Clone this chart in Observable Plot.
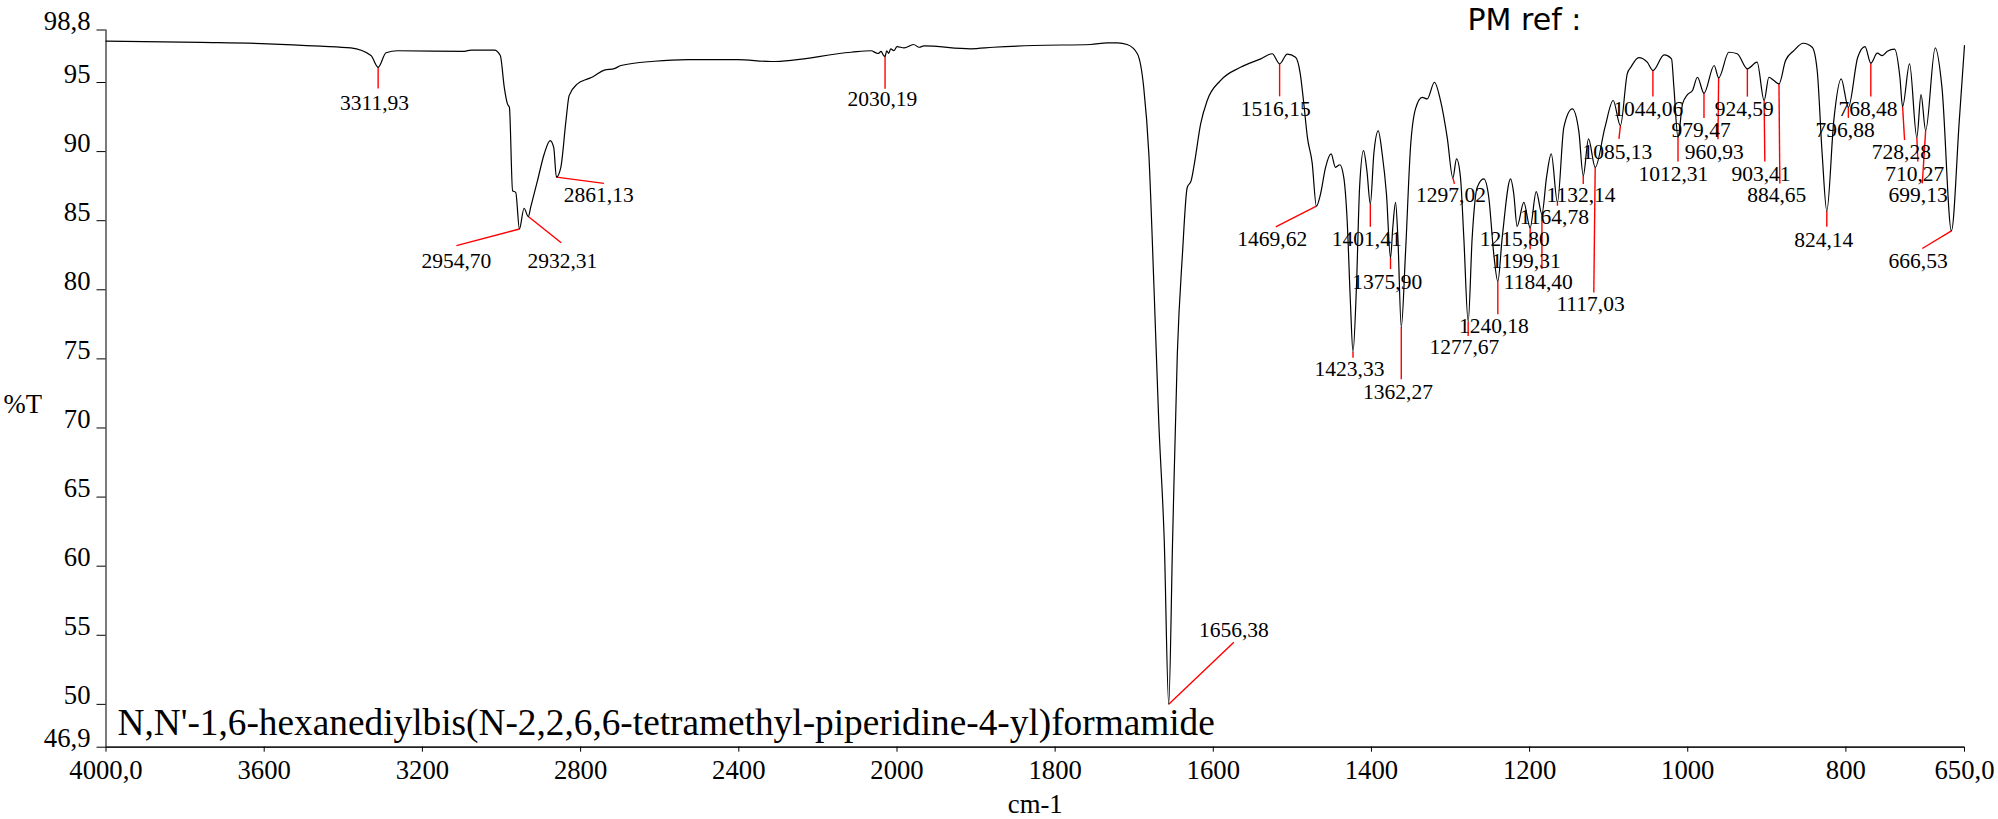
<!DOCTYPE html>
<html><head><meta charset="utf-8">
<script src="https://cdn.jsdelivr.net/npm/d3@7"></script>
<script src="https://cdn.jsdelivr.net/npm/@observablehq/plot@0.6"></script>
<style>
html,body{margin:0;padding:0;background:#fff;}
#wrap{position:relative;width:1998px;height:819px;overflow:hidden;}
svg{overflow:visible;}
</style></head><body><div id="wrap"></div>
<script>
// ---- Spectrum (wavenumber cm-1, %T) ----
const wavenumber = [4000,3760,3591,3458,3381,3330,3311.93,3292,3263,3094,3077,3018,3003,2993,2985,2980,2972,2964,2954.70,2943,2932.31,2926,2909,2892,2877,2868,2861.13,2850,2837,2829,2808,2782,2770,2740,2715,2698,2614,2529,2403,2318,2116,2066,2048,2040,2035,2030.19,2026,2021,2016,2008,2000,1991,1979,1972,1966,1907,1878,1827,1755,1734,1721,1709,1696,1688,1681.5,1675,1669,1662,1656.38,1651.5,1645.5,1639,1633,1628,1624,1616,1607.7,1591,1565.6,1540,1525.5,1516.15,1506.5,1496,1490,1485.5,1481,1475,1469.62,1464.5,1458,1451,1445.5,1440,1435,1430.7,1426.5,1423.33,1419,1415,1410,1405.7,1401.41,1397,1391.4,1386.4,1381,1375.90,1373,1369.5,1366.6,1362.27,1357,1350.6,1344.3,1335.8,1329.5,1320.3,1312.7,1304.2,1297.02,1292.4,1287.4,1283.2,1277.67,1272.6,1266.3,1257.9,1251.6,1245.3,1240.18,1234.6,1224,1220,1215.80,1207.3,1199.31,1191.6,1184.40,1178.6,1172.6,1164.78,1156.7,1146,1137.8,1132.14,1125.5,1117.03,1104.7,1094.3,1085.13,1076.5,1072,1062,1051.2,1044.06,1029.8,1020.5,1017.5,1012.31,1006.6,1000.3,994,987.7,979.47,966.6,960.93,948,937.4,924.59,912.3,903.41,897.4,891,884.65,876.3,865.8,854,842.6,836.3,830,824.14,815.3,806,796.88,785,775.8,768.48,760.3,754,747.6,738.4,731.7,728.28,719.5,710.27,705,699.13,687,678.5,666.53,656.6,650];
const transmittance = [98.0,97.9,97.8,97.63,97.5,96.95,96.1,97.15,97.3,97.26,97.35,97.35,96.95,94.65,93.45,93.2,87.17,87.05,84.4,85.9,85.3,86.0,87.9,89.83,90.8,90.3,88.15,88.86,92.24,94.05,94.9,95.26,95.4,95.9,96.0,96.23,96.54,96.66,96.66,96.52,97.19,97.3,97.1,97.25,97.0,96.88,97.3,97.1,97.44,97.3,97.6,97.5,97.75,97.55,97.65,97.44,97.55,97.68,97.75,97.87,97.87,97.75,97.08,94.65,89.83,80.16,70.5,61.8,50.0,61.8,75.35,82.6,87.4,87.9,89.1,92.0,93.7,95.14,96.1,96.71,97.08,96.35,97.05,96.83,95.63,93.45,91.03,89.2,86.05,86.9,88.86,89.83,88.86,89.05,88.13,85.0,78.96,75.5,80.16,87.4,90.07,88.6,86.2,89.83,91.5,89.83,86.93,82.3,84.5,86.32,83.79,77.3,82.58,90.31,93.09,93.93,93.81,95.02,93.7,91.03,88.1,89.47,88.13,83.79,77.7,83.79,87.4,88.02,86.68,82.58,80.6,83.79,88.02,86.93,84.6,86.32,84.5,87.1,85.48,88.13,89.83,86.32,91.76,93.09,91.5,88.25,90.92,88.86,91.76,93.7,91.88,95.63,96.1,96.8,96.47,95.87,97.0,96.71,94.65,91.03,93.45,94.13,94.42,95.38,94.22,96.23,95.34,97.19,97.08,95.99,96.47,93.7,95.38,95.14,94.9,96.59,97.31,97.84,97.55,95.87,89.83,85.7,92.24,95.26,93.21,96.83,97.6,96.4,97.12,96.95,97.26,97.41,95.38,93.26,96.35,91.03,94.13,91.52,97.51,94.65,84.27,92.24,97.68];

// ---- Peak annotations ----
const peakWn   = [3311.93,2954.70,2932.31,2861.13,2030.19,1516.15,1469.62,1401.41,1375.90,1423.33,1362.27,1297.02,1277.67,1240.18,1215.80,1199.31,1184.40,1164.78,1132.14,1117.03,1085.13,1044.06,1012.31,979.47,960.93,924.59,903.41,884.65,824.14,796.88,768.48,728.28,710.27,699.13,666.53,1656.38];
const peakT    = [96.1,84.4,85.3,88.15,96.88,96.35,86.05,86.2,82.3,75.5,77.3,88.1,77.7,80.6,84.6,84.5,85.48,86.32,88.25,88.86,91.88,95.87,91.03,94.22,95.34,95.99,93.7,94.9,85.7,93.21,96.4,93.26,91.03,91.52,84.27,50.0];
const lineEndWn = [3311.93,3114,2849,2741,2030.19,1516.15,1521,1401.41,1375.90,1423.33,1362.27,1295,1277.67,1240.18,1215.80,1199.31,1184.40,1164.78,1132.14,1118.8,1087,1044.06,1012.31,979.47,961.8,924.59,902.5,883.5,824.14,796.88,768.48,725.8,709.0,703.4,703.4,1574];
const lineEndT  = [94.56,83.2,83.4,87.7,94.54,94.0,84.56,84.56,81.5,75.09,73.52,87.66,76.66,78.23,84.56,82.94,81.5,86.08,87.66,79.8,90.92,93.98,89.29,92.44,90.89,93.98,89.29,87.7,84.56,92.44,93.98,90.84,89.29,87.7,82.99,54.5];
const labelWn   = [3321,3114,2846,2754,2037,1521,1525.5,1406,1380,1427.7,1366.4,1299.4,1282.5,1245.2,1218.7,1204.4,1189,1168.7,1135,1122.9,1089,1050,1018.2,983,966.4,928.5,907.3,887.4,828,801,772,729.9,712.9,708.7,708.7,1574];
const labelT    = [93.04,81.6,81.6,86.32,93.33,92.6,83.18,83.18,80.09,73.76,72.12,86.32,75.34,76.86,83.18,81.61,80.05,84.76,86.32,78.47,89.47,92.6,87.89,91.03,89.47,92.6,87.89,86.32,83.1,91.03,92.6,89.47,87.89,86.32,81.61,54.85];

// ---- Axes ----
const xTicks = [4000,3600,3200,2800,2400,2000,1800,1600,1400,1200,1000,800,650];
const xTickLabels = ["4000,0","3600","3200","2800","2400","2000","1800","1600","1400","1200","1000","800","650,0"];
const yTicks = [46.9,50,55,60,65,70,75,80,85,90,95,98.8];
const yTickLabels = ["46,9","50","55","60","65","70","75","80","85","90","95","98,8"];
const xTitle = "cm-1";
const yTitle = "%T";
const compoundName = "N,N'-1,6-hexanediylbis(N-2,2,6,6-tetramethyl-piperidine-4-yl)formamide";
const sampleTag = "PM ref :";

const spectrum = wavenumber.map((w, i) => ({wn: w, t: transmittance[i]}));
const peaks = peakWn.map((w, i) => ({
  wn: w, t: peakT[i], ex: lineEndWn[i], ey: lineEndT[i], lx: labelWn[i], ly: labelT[i],
  text: w.toFixed(2).replace(".", ",")
}));

const serif = "'Liberation Serif','Times New Roman',serif";
const W = 1998, H = 819;
const chart = Plot.plot({
  width: W, height: H,
  marginLeft: 105.5, marginRight: 34, marginTop: 29.5, marginBottom: 72.3,
  style: {fontFamily: serif, fontSize: "26.7px", background: "#fff", color: "#000"},
  x: {type: "linear", domain: [4000, 2000, 650], range: [105.5, 896.5, 1964]},
  y: {type: "linear", domain: [46.9, 98.8]},
  marks: [
    Plot.ruleY([46.9], {stroke: "#222", strokeWidth: 1.8}),
    Plot.ruleX([4000], {stroke: "#222", strokeWidth: 1.2}),
    Plot.axisX({ticks: xTicks, tickFormat: d => xTickLabels[xTicks.indexOf(d)], tickSize: 5, tickPadding: 8, fontSize: 26.7, fontFamily: serif, label: null}),
    Plot.axisY({ticks: yTicks, tickFormat: d => yTickLabels[yTicks.indexOf(d)], tickSize: 9, tickPadding: 6.5, fontSize: 26.7, fontFamily: serif, lineAnchor: "bottom", label: null}),
    Plot.link(peaks, {x1: "wn", y1: "t", x2: "ex", y2: "ey", stroke: "#ff0000", strokeWidth: 1.4}),
    Plot.line(spectrum, {x: "wn", y: "t", stroke: "#000", strokeWidth: 1.2, curve: "monotone-x"}),
    Plot.text(peaks, {x: "lx", y: "ly", text: "text", fontSize: 21.5, fontFamily: serif, lineAnchor: "bottom", textAnchor: "middle", fill: "#000"}),
    Plot.text([yTitle], {frameAnchor: "left", dx: -102.5, dy: 24, textAnchor: "start", lineAnchor: "bottom", fontSize: 26.7, fontFamily: serif}),
    Plot.text([xTitle], {frameAnchor: "bottom", dy: 65.3, lineAnchor: "bottom", fontSize: 26.7, fontFamily: serif}),
    Plot.text([compoundName], {frameAnchor: "bottom-left", dx: 11.5, dy: -12.7, textAnchor: "start", lineAnchor: "bottom", fontSize: 37.3, fontFamily: serif}),
    Plot.text([sampleTag], {frameAnchor: "top-left", dx: 1361.5, dy: -0.5, textAnchor: "start", lineAnchor: "bottom", fontSize: 30, fontFamily: "'Comic Sans MS','DejaVu Sans',sans-serif"})
  ]
});
document.getElementById("wrap").appendChild(chart);
</script>
</body></html>
